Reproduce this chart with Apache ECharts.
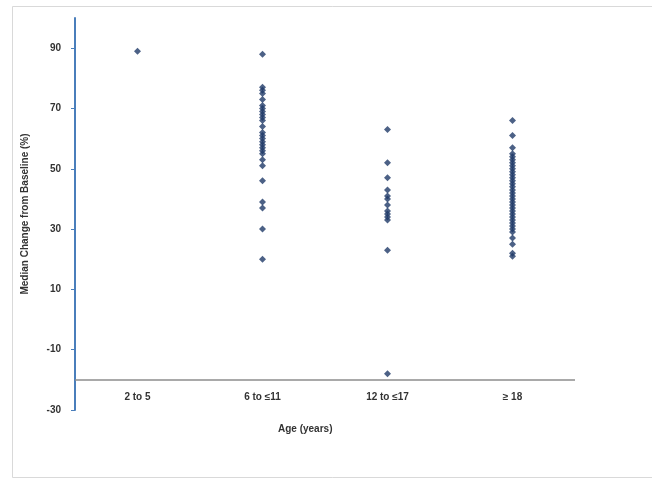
<!DOCTYPE html>
<html>
<head>
<meta charset="utf-8">
<script src="https://cdn.jsdelivr.net/npm/echarts@6/dist/echarts.min.js"></script>
<style>
  html, body { margin: 0; padding: 0; background: #fff; }
  #chart { width: 652px; height: 483px; }
</style>
</head>
<body>
<div id="chart"></div>
<script>
// age groups on the x axis
var ageGroups = ['2 to 5', '6 to \u226411', '12 to \u226417', '\u2265 18'];

// % change from baseline, one list per group
var group1 = [89];
var group2 = [88, 77, 76, 75, 73, 71, 70, 69, 68, 67, 66, 64, 62, 61, 60, 59, 58, 57, 56, 55, 53, 51, 46, 39, 37, 30, 20];
var group3 = [63, 52, 47, 43, 41, 40, 38, 36, 35, 34, 33, 23, -18];
var group4 = [66, 61, 57, 55, 54, 53, 52, 51, 50, 49, 48, 47, 46, 45, 44, 43, 42, 41, 40, 39, 38, 37, 36, 35, 34, 33, 32, 31, 30, 29, 27, 25, 22, 21];

var yTicks = [-30, -10, 10, 30, 50, 70, 90];
var crossAt = -20; // horizontal axis crosses here

var groups = [group1, group2, group3, group4];
var points = [];
groups.forEach(function (g, i) {
  g.forEach(function (v) { points.push([ageGroups[i], v]); });
});

var chart = echarts.init(document.getElementById('chart'));
var txt = '#333';
var font = 'Liberation Sans';

chart.setOption({
  animation: false,
  backgroundColor: '#fff',
  grid: { left: 75, right: 77, top: 18, bottom: 73 },
  graphic: [
    {
      type: 'rect',
      shape: { x: 12.5, y: 6.5, width: 660, height: 471 },
      style: { fill: 'none', stroke: '#d9d9d9', lineWidth: 1 }
    },
    {
      type: 'text',
      left: 278, top: 424,
      style: { text: 'Age (years)', font: 'bold 10px ' + font, fill: txt }
    }
  ],
  xAxis: {
    type: 'category',
    data: ageGroups,
    axisLine: { show: false },
    axisTick: { show: false },
    splitLine: { show: false },
    axisLabel: { margin: -18, color: txt, fontSize: 10, fontWeight: 'bold', fontFamily: font }
  },
  yAxis: {
    type: 'value',
    min: yTicks[0],
    max: 100,
    interval: 20,
    name: 'Median Change from Baseline (%)',
    nameLocation: 'middle',
    nameGap: 45,
    nameTextStyle: { color: txt, fontSize: 10, fontWeight: 'bold', fontFamily: font },
    axisLine: { show: true, lineStyle: { color: '#4a7ebb', width: 2 } },
    axisTick: { show: true, length: 4, lineStyle: { color: '#4a7ebb' } },
    splitLine: { show: false },
    axisLabel: {
      margin: 14, color: txt, fontSize: 10, fontWeight: 'bold', fontFamily: font,
      showMaxLabel: false,
      formatter: function (v) { return yTicks.indexOf(v) >= 0 ? v : ''; }
    }
  },
  series: [{
    type: 'scatter',
    data: points,
    symbol: 'diamond',
    symbolSize: 7,
    itemStyle: { color: '#1f3a68' },
    markLine: {
      silent: true,
      symbol: 'none',
      label: { show: false },
      lineStyle: { color: '#8c8c8c', width: 1.5, type: 'solid' },
      data: [{ yAxis: crossAt }]
    }
  }]
});
</script>
</body>
</html>
